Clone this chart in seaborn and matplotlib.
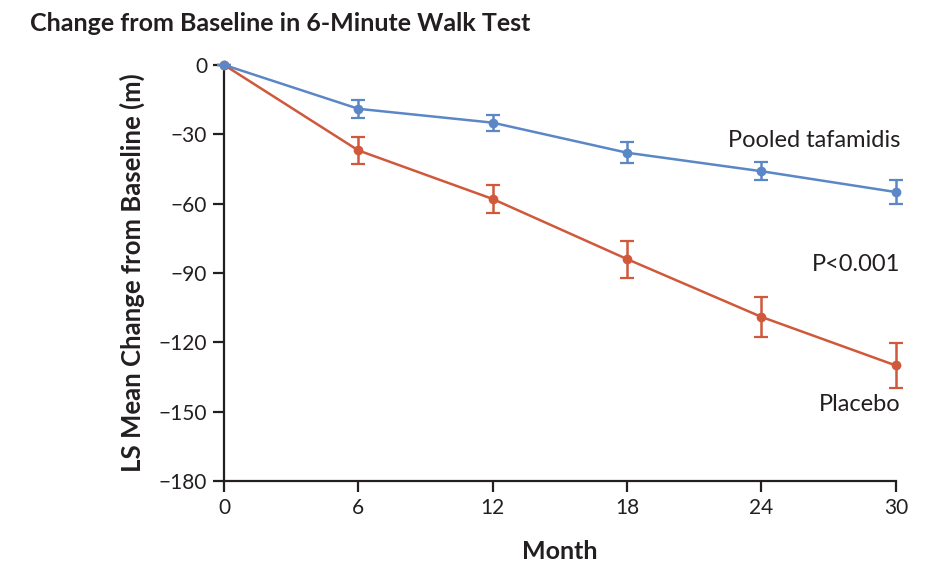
import numpy as np
import pandas as pd
import matplotlib
matplotlib.use("Agg")
import matplotlib.pyplot as plt
import seaborn as sns

months = [0, 6, 12, 18, 24, 30]
tafamidis_mean = [0, -19, -25, -38, -46, -55]
tafamidis_err = [0, 4, 3.5, 4.5, 4, 5]
placebo_mean = [0, -37, -58, -84, -109, -130]
placebo_err = [0, 6, 6, 8, 8.8, 9.8]
xticks = [0, 6, 12, 18, 24, 30]
yticks = [0, -30, -60, -90, -120, -150, -180]

BLUE = "#5b87c6"
RED = "#d0583b"
DARK = "#231f20"

sns.set_theme(style="white")
plt.rcParams["font.family"] = ["Lato", "DejaVu Sans"]

df = pd.DataFrame({
    "Month": months * 2,
    "Change": tafamidis_mean + placebo_mean,
    "Err": tafamidis_err + placebo_err,
    "Group": ["Pooled tafamidis"] * 6 + ["Placebo"] * 6,
})

fig = plt.figure(figsize=(9.41, 5.64), dpi=100)
ax = fig.add_axes([0.238, 0.147, 0.714, 0.738])

# placebo first so tafamidis draws on top at 0
for grp, col in [("Placebo", RED), ("Pooled tafamidis", BLUE)]:
    sub = df[df["Group"] == grp]
    sns.lineplot(data=sub, x="Month", y="Change", color=col, marker="o",
                 markersize=7, markeredgewidth=0, linewidth=1.8, ax=ax,
                 legend=False, clip_on=False, zorder=3)
    ax.errorbar(sub["Month"], sub["Change"], yerr=sub["Err"], fmt="none",
                ecolor=col, elinewidth=1.8, capsize=5, capthick=1.6,
                clip_on=False, zorder=3)

ax.set_xlim(0, 30)
ax.set_ylim(-180, 0)
ax.set_xticks(xticks)
ax.set_yticks(yticks)
ax.set_xticklabels([str(t) for t in xticks])
ax.set_yticklabels(["0" if t == 0 else "\u2212" + str(abs(t)) for t in yticks])

for s in ["top", "right"]:
    ax.spines[s].set_visible(False)
for s in ["left", "bottom"]:
    ax.spines[s].set_color(DARK)
    ax.spines[s].set_linewidth(1.6)

ax.tick_params(axis="both", which="both", direction="out", length=8, width=1.6,
               color=DARK, labelsize=15, labelcolor=DARK, pad=4,
               left=True, bottom=True)

ax.set_xlabel("Month", fontsize=18, fontweight="bold", color=DARK, labelpad=16)
ax.set_ylabel("LS Mean Change from Baseline (m)", fontsize=18.5, fontweight="bold",
              color=DARK, labelpad=10)

ax.text(30.2, -32.5, "Pooled tafamidis", ha="right", va="center", fontsize=17, color=DARK)
ax.text(30.2, -86.5, "P<0.001", ha="right", va="center", fontsize=17, color=DARK)
ax.text(30.2, -147, "Placebo", ha="right", va="center", fontsize=17, color=DARK)

fig.text(0.032, 0.958, "Change from Baseline in 6-Minute Walk Test", ha="left",
         va="center", fontsize=18, fontweight="bold", color=DARK)

fig.savefig("out.png", dpi=100, facecolor="white")
